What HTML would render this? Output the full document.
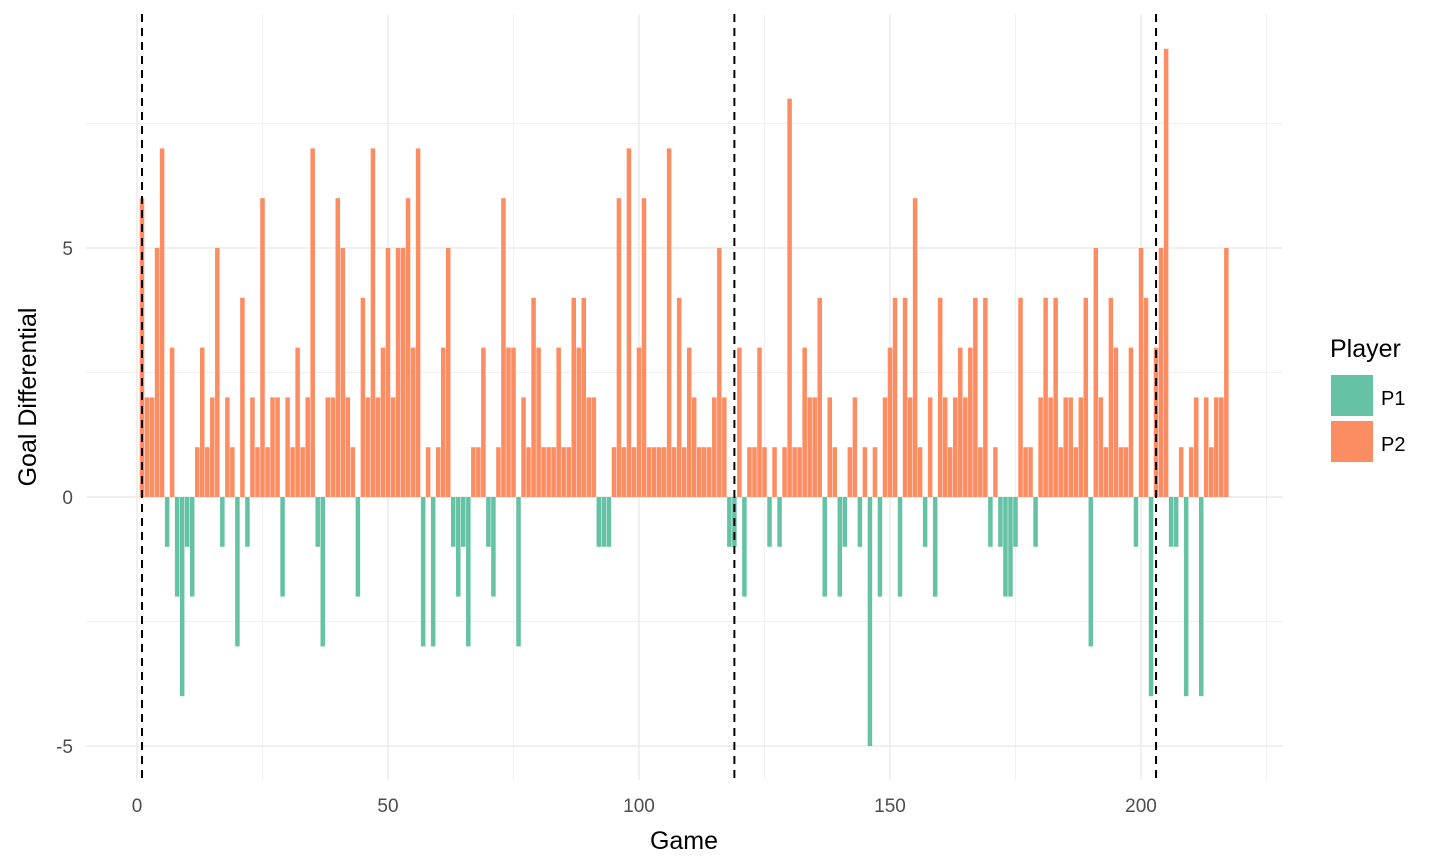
<!DOCTYPE html>
<html><head><meta charset="utf-8"><style>
html,body{margin:0;padding:0;background:#fff;}
svg{display:block;font-family:"Liberation Sans",Arial,sans-serif;}
</style></head><body>
<svg id="chart" width="1440" height="864" viewBox="0 0 1440 864" xmlns="http://www.w3.org/2000/svg">
<g id="grid"></g>
<g id="bars"></g>
<g id="vlines"></g>
<g id="axes"></g>
<text x="684" y="849" font-size="25" text-anchor="middle" fill="#000">Game</text>
<text transform="translate(36,397) rotate(-90)" font-size="25" text-anchor="middle" fill="#000">Goal Differential</text>
<g>
<text x="1330" y="357" font-size="25" fill="#000">Player</text>
<rect x="1331" y="375" width="42" height="41" fill="#66C2A5"/>
<rect x="1331" y="421" width="42" height="41" fill="#FC8D62"/>
<text x="1381" y="405" font-size="20" fill="#000">P1</text>
<text x="1381" y="451" font-size="20" fill="#000">P2</text>
</g>
</svg>
<script>
const values = [6,2,2,5,7,-1,3,-2,-4,-1,-2,1,3,1,2,5,-1,2,1,-3,4,-1,2,1,6,1,2,2,-2,2,1,3,1,2,7,-1,-3,
2,2,6,5,2,1,-2,4,2,7,2,3,5,2,5,5,6,3,7,-3,1,-3,1,3,5,-1,-2,-1,-3,1,1,3,-1,-2,1,6,3,3,-3,
2,1,4,3,1,1,1,3,1,1,4,3,4,2,2,-1,-1,-1,1,6,1,7,1,3,6,1,1,1,1,7,1,4,1,3,
2,1,1,1,2,5,2,-1,-1,3,-2,1,1,3,1,-1,1,-1,1,8,1,1,3,2,2,4,-2,2,1,-2,-1,1,2,-1,1,-5,
1,-2,2,3,4,-2,4,2,6,1,-1,2,-2,4,2,1,2,3,2,3,4,1,4,-1,1,-1,-2,-2,-1,4,1,1,-1,2,4,
2,4,1,2,2,1,2,4,-3,5,2,1,4,3,1,1,3,-1,5,4,-4,3,5,9,-1,-1,1,-4,1,2,-4,2,1,2,2,5];
const refGames = [1,119,203];
const xTicks = [0,50,100,150,200];
const xMinor = [25,75,125,175,225];
const yTicks = [-5,0,5];
const yMinor = [-2.5,2.5,7.5];
const NS="http://www.w3.org/2000/svg";
const X0=86,X1=1283,Y0=14,Y1=780;
const xs=g=>137+5.02*g;
const ys=v=>497-49.8*v;
function mk(parent,tag,attrs){const e=document.createElementNS(NS,tag);for(const k in attrs)e.setAttribute(k,attrs[k]);parent.appendChild(e);return e;}
const grid=document.getElementById('grid');
xMinor.forEach(t=>{const l=mk(grid,'line',{x1:xs(t),x2:xs(t),y1:Y0,y2:Y1,stroke:'#f0f0f0','stroke-width':1});

});
yMinor.forEach(t=>{const l=mk(grid,'line',{x1:X0,x2:X1,y1:ys(t),y2:ys(t),stroke:'#f0f0f0','stroke-width':1});

});
xTicks.forEach(t=>{const l=mk(grid,'line',{x1:xs(t),x2:xs(t),y1:Y0,y2:Y1,stroke:'#ebebeb','stroke-width':1.5});

});
yTicks.forEach(t=>{const l=mk(grid,'line',{x1:X0,x2:X1,y1:ys(t),y2:ys(t),stroke:'#ebebeb','stroke-width':1.5});

});
const bars=document.getElementById('bars');
const bw=5.02*0.9;
values.forEach((v,i)=>{const g=i+1;const y=v>=0?ys(v):ys(0);const h=Math.abs(ys(v)-ys(0));
const r=mk(bars,'rect',{x:xs(g)-bw/2,y:y,width:bw,height:h,fill:v>0?'#FC8D62':'#66C2A5'});

});
const vl=document.getElementById('vlines');
refGames.forEach(g=>{const l=mk(vl,'line',{x1:xs(g),x2:xs(g),y1:Y0,y2:Y1,stroke:'#000','stroke-width':2,'stroke-dasharray':'8,6'});

});
const ax=document.getElementById('axes');
xTicks.forEach(t=>{const tx=mk(ax,'text',{x:xs(t),y:812,'font-size':19,'text-anchor':'middle',fill:'#4d4d4d'});tx.textContent=t;

});
yTicks.forEach(t=>{const tx=mk(ax,'text',{x:73,y:ys(t)+7,'font-size':19,'text-anchor':'end',fill:'#4d4d4d'});tx.textContent=t;

});
</script>
</body></html>
